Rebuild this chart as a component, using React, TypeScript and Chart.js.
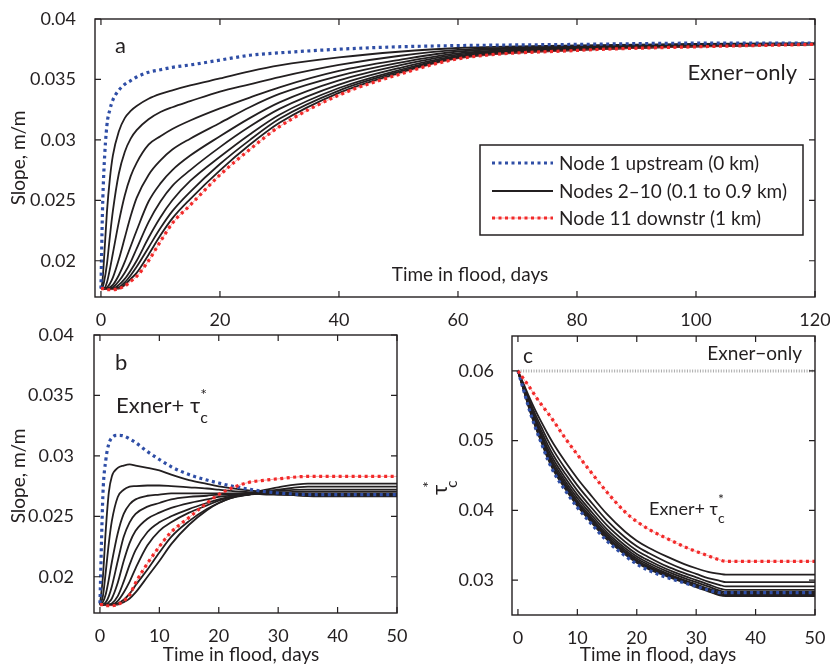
import { useEffect, useRef } from 'react';
import { Chart, registerables } from 'chart.js';
Chart.register(...registerables);

const FONT = 'Lato, "Open Sans", "DejaVu Sans", sans-serif';
const INK = '#231f20';
const BLUE = '#2f4ea6';
const RED = '#f22a2a';
const RED_THIN = 'rgba(242, 60, 60, 0.45)';

// ---------- Panel a: Exner-only slope ----------
const TIME_A = [0, 0.25, 0.5, 1, 1.5, 2, 3, 4, 5, 6, 8, 10, 12, 15, 20, 25, 30, 40, 50, 60, 80, 100, 120];
const A_NODE1 = [0.0177, 0.0240, 0.0275, 0.0312, 0.0325, 0.0333, 0.0341, 0.0346, 0.0349, 0.0352, 0.0356, 0.0358, 0.0360, 0.0362, 0.0366, 0.0370, 0.0372, 0.0375, 0.0377, 0.0378, 0.0379, 0.0380, 0.0380];
const A_NODES_2_10 = [
  [0.0177, 0.0183, 0.0200, 0.0240, 0.0268, 0.0287, 0.0307, 0.0318, 0.0324, 0.0328, 0.0334, 0.0338, 0.0341, 0.0345, 0.03508, 0.03567, 0.03616, 0.03682, 0.03729, 0.0376, 0.03781, 0.03795, 0.03799],
  [0.0177, 0.0178, 0.0182, 0.0197, 0.0220, 0.0241, 0.0272, 0.0290, 0.0301, 0.0308, 0.0317, 0.0323, 0.0327, 0.0332, 0.0340, 0.0346, 0.0352, 0.0362, 0.03694, 0.03744, 0.03774, 0.0379, 0.03797],
  [0.0177, 0.0177, 0.0177, 0.0182, 0.0193, 0.0206, 0.0232, 0.0254, 0.0270, 0.0281, 0.0296, 0.0303, 0.0309, 0.0316, 0.0326, 0.0335, 0.03435, 0.0357, 0.0366, 0.03731, 0.03768, 0.03787, 0.03796],
  [0.0177, 0.0177, 0.0177, 0.0178, 0.0181, 0.0186, 0.0201, 0.0219, 0.0237, 0.0252, 0.0271, 0.0283, 0.0292, 0.0301, 0.0314, 0.0327, 0.0338, 0.0353, 0.03637, 0.03716, 0.03761, 0.03783, 0.03794],
  [0.0177, 0.0177, 0.0177, 0.0177, 0.0178, 0.0180, 0.0188, 0.0199, 0.0212, 0.0225, 0.0249, 0.0264, 0.0275, 0.0287, 0.0303, 0.0318, 0.0331, 0.03492, 0.03614, 0.03705, 0.03756, 0.0378, 0.03793],
  [0.0177, 0.0177, 0.0177, 0.0177, 0.0177, 0.0178, 0.0183, 0.0190, 0.0199, 0.0210, 0.0232, 0.0249, 0.0262, 0.0275, 0.0294, 0.0311, 0.03256, 0.03457, 0.03593, 0.03695, 0.03752, 0.03777, 0.03792],
  [0.0177, 0.0177, 0.0177, 0.0177, 0.0177, 0.0177, 0.0180, 0.0185, 0.0192, 0.0200, 0.0219, 0.0236, 0.0250, 0.0266, 0.0286, 0.03045, 0.03208, 0.03429, 0.03576, 0.03687, 0.03748, 0.03775, 0.03792],
  [0.0177, 0.0177, 0.0177, 0.0177, 0.0177, 0.0177, 0.0178, 0.0182, 0.0188, 0.0195, 0.0211, 0.0227, 0.0241, 0.0257, 0.0280, 0.02998, 0.03174, 0.03408, 0.03563, 0.03681, 0.03745, 0.03773, 0.03791],
  [0.0177, 0.0177, 0.0177, 0.0177, 0.0177, 0.0177, 0.0177, 0.0180, 0.0185, 0.0190, 0.0205, 0.0221, 0.0235, 0.0251, 0.02748, 0.02959, 0.03141, 0.03389, 0.03552, 0.03676, 0.03743, 0.03772, 0.0379],
];
const A_NODE11 = [0.0177, 0.0177, 0.0177, 0.0176, 0.0176, 0.0176, 0.0177, 0.0179, 0.0183, 0.0187, 0.0200, 0.0216, 0.0231, 0.0246, 0.0271, 0.0292, 0.0311, 0.0337, 0.0354, 0.0367, 0.0374, 0.0377, 0.0379];

// ---------- Panel b: Exner + tau slope ----------
const TIME_B = [0, 0.5, 1, 1.5, 2, 3, 4, 5, 6, 8, 10, 12, 15, 18, 20, 22, 25, 28, 30, 35, 40, 50];
const B_NODE1 = [0.0178, 0.0268, 0.0297, 0.0310, 0.0315, 0.0317, 0.03165, 0.0314, 0.0311, 0.03035, 0.0297, 0.0291, 0.02845, 0.0280, 0.02775, 0.02752, 0.02725, 0.02703, 0.02693, 0.0268, 0.0268, 0.0268];
const B_NODES_2_10 = [
  [0.0177, 0.0200, 0.0240, 0.0270, 0.0283, 0.0290, 0.0292, 0.0293, 0.0292, 0.0290, 0.0288, 0.02845, 0.0280, 0.02768, 0.02748, 0.02733, 0.02715, 0.0270, 0.0269, 0.02668, 0.02665, 0.02665],
  [0.0177, 0.0184, 0.0205, 0.0228, 0.0246, 0.0266, 0.0272, 0.02745, 0.0275, 0.02755, 0.02755, 0.0275, 0.0274, 0.0273, 0.0272, 0.0271, 0.0270, 0.0269, 0.02685, 0.0267, 0.0267, 0.0267],
  [0.0177, 0.0179, 0.0186, 0.0198, 0.0212, 0.0236, 0.0252, 0.0260, 0.0264, 0.0267, 0.0268, 0.0269, 0.0269, 0.0269, 0.0269, 0.0269, 0.0269, 0.0268, 0.0268, 0.02675, 0.02675, 0.02675],
  [0.0177, 0.0177, 0.0179, 0.0184, 0.0192, 0.0213, 0.0233, 0.0245, 0.0252, 0.0258, 0.0261, 0.0264, 0.0266, 0.0267, 0.0268, 0.0268, 0.0269, 0.0269, 0.0268, 0.0268, 0.0268, 0.0268],
  [0.0177, 0.0177, 0.0177, 0.0179, 0.0182, 0.0195, 0.0213, 0.0228, 0.0238, 0.0248, 0.0253, 0.0257, 0.0261, 0.0264, 0.0266, 0.0267, 0.0268, 0.0269, 0.0269, 0.0269, 0.0269, 0.0269],
  [0.0177, 0.0177, 0.0177, 0.0177, 0.0178, 0.0184, 0.0196, 0.0210, 0.0222, 0.0237, 0.0245, 0.0250, 0.0256, 0.0261, 0.0264, 0.0266, 0.0268, 0.0270, 0.0270, 0.02705, 0.02705, 0.02705],
  [0.0177, 0.0177, 0.0177, 0.0177, 0.0177, 0.0180, 0.0187, 0.0196, 0.0207, 0.0226, 0.0238, 0.0245, 0.0253, 0.0259, 0.0263, 0.0266, 0.0268, 0.0270, 0.0271, 0.0272, 0.0272, 0.0272],
  [0.0177, 0.0177, 0.0177, 0.0177, 0.0177, 0.0178, 0.0181, 0.0186, 0.0193, 0.0206, 0.0220, 0.0233, 0.0246, 0.0256, 0.0261, 0.0265, 0.0268, 0.0271, 0.0272, 0.02745, 0.02746, 0.02746],
  [0.0177, 0.0177, 0.0177, 0.0177, 0.0177, 0.0177, 0.0179, 0.0182, 0.0187, 0.0200, 0.0213, 0.0227, 0.0243, 0.0255, 0.0261, 0.0265, 0.0269, 0.0272, 0.0274, 0.0277, 0.0277, 0.0277],
];
const B_NODE11 = [0.0177, 0.0177, 0.0176, 0.0176, 0.0176, 0.0177, 0.0180, 0.0185, 0.0195, 0.0211, 0.0225, 0.0237, 0.0249, 0.0261, 0.0268, 0.0273, 0.0278, 0.0280, 0.0281, 0.0283, 0.0283, 0.0283];

// ---------- Panel c: critical Shields stress ----------
const TIME_C = [0, 1, 2, 3, 4, 5, 6, 8, 10, 12, 15, 18, 20, 22, 25, 28, 30, 32, 34, 35, 40, 50];
const C_NODE1 = [0.0600, 0.0571, 0.0542, 0.0517, 0.0495, 0.0473, 0.0455, 0.0428, 0.0404, 0.0384, 0.0356, 0.0335, 0.0323, 0.0314, 0.0304, 0.0296, 0.0291, 0.0286, 0.0282, 0.0282, 0.0282, 0.0282];
const C_NODES_2_10 = [
  [0.06, 0.05715, 0.0543, 0.05184, 0.04967, 0.0475, 0.04572, 0.04303, 0.04063, 0.03862, 0.03581, 0.03369, 0.03248, 0.03158, 0.03057, 0.02965, 0.0290, 0.0284, 0.0278, 0.0277, 0.0277, 0.0277],
  [0.06, 0.0572, 0.0544, 0.05198, 0.04984, 0.0477, 0.04594, 0.04325, 0.04086, 0.03884, 0.03602, 0.03388, 0.03267, 0.03175, 0.0307, 0.0298, 0.0292, 0.0285, 0.0279, 0.0278, 0.0278, 0.0278],
  [0.06, 0.05725, 0.05451, 0.05211, 0.0500, 0.0479, 0.04616, 0.04348, 0.04108, 0.03907, 0.03623, 0.03407, 0.03285, 0.03193, 0.03085, 0.0299, 0.0293, 0.0287, 0.0281, 0.0279, 0.0279, 0.0279],
  [0.06, 0.05732, 0.05464, 0.0523, 0.05023, 0.04817, 0.04645, 0.04378, 0.04139, 0.03936, 0.03651, 0.03432, 0.03309, 0.03217, 0.0310, 0.0300, 0.0294, 0.0288, 0.0283, 0.0281, 0.0281, 0.0281],
  [0.06, 0.05741, 0.05481, 0.05253, 0.05051, 0.04851, 0.04681, 0.04415, 0.04177, 0.03973, 0.03686, 0.03463, 0.0334, 0.03246, 0.0313, 0.0303, 0.0297, 0.0291, 0.0285, 0.0283, 0.0283, 0.0283],
  [0.06, 0.05751, 0.05502, 0.0528, 0.05084, 0.04891, 0.04725, 0.0446, 0.04222, 0.04018, 0.03728, 0.03501, 0.03376, 0.03282, 0.0316, 0.0306, 0.0300, 0.0294, 0.0288, 0.0286, 0.0286, 0.0286],
  [0.06, 0.05764, 0.05529, 0.05317, 0.05129, 0.04944, 0.04784, 0.0452, 0.04283, 0.04077, 0.03784, 0.03552, 0.03425, 0.03329, 0.0320, 0.0310, 0.0304, 0.0298, 0.0293, 0.0291, 0.0291, 0.0291],
  [0.06, 0.05781, 0.05563, 0.05363, 0.05185, 0.05011, 0.04857, 0.04595, 0.04359, 0.04151, 0.03854, 0.03615, 0.03486, 0.03388, 0.0326, 0.0315, 0.0309, 0.0303, 0.0299, 0.0297, 0.0297, 0.0297],
  [0.06, 0.05804, 0.05607, 0.05423, 0.05258, 0.05099, 0.04952, 0.04693, 0.04458, 0.04247, 0.03945, 0.03697, 0.03566, 0.03465, 0.0334, 0.0323, 0.0317, 0.0312, 0.0309, 0.0308, 0.0308, 0.0308],
];
const C_NODE11 = [0.06, 0.0588, 0.0576, 0.0563, 0.0551, 0.0540, 0.0528, 0.0503, 0.0480, 0.0458, 0.0426, 0.0398, 0.0384, 0.0373, 0.0360, 0.0348, 0.0341, 0.0335, 0.0329, 0.0327, 0.0327, 0.0327];
const C_EXNER_ONLY_T = [0, 50];
const C_EXNER_ONLY = [0.06, 0.06];

// ---------- axes ----------
const X_TICKS_A = [0, 20, 40, 60, 80, 100, 120];
const X_TICKS_BC = [0, 10, 20, 30, 40, 50];
const Y_TICKS_AB = [0.02, 0.025, 0.03, 0.035, 0.04];
const Y_TICKS_C = [0.03, 0.04, 0.05, 0.06];

const LEGEND_LABELS = ['Node 1 upstream (0 km)', 'Nodes 2\u201310 (0.1 to 0.9 km)', 'Node 11 downstr (1 km)'];

function series(times: number[], vals: number[]) {
  return times.map((t, i) => ({ x: t, y: vals[i] }));
}

function buildDatasets(times: number[], n1: number[], mids: number[][], n11: number[]) {
  const ds: any[] = [];
  const common = { pointRadius: 0, cubicInterpolationMode: 'monotone', fill: false };
  mids.forEach((m) => {
    ds.push({ ...common, data: series(times, m), borderColor: INK, borderWidth: 1.8, order: 4 });
  });
  ds.push({ ...common, data: series(times, n1), borderColor: BLUE, borderWidth: 3.2, borderDash: [3, 3.5], order: 3 });
  ds.push({ ...common, data: series(times, n11), borderColor: RED_THIN, borderWidth: 1, order: 2 });
  ds.push({ ...common, data: series(times, n11), borderColor: RED, borderWidth: 3.2, borderDash: [3, 3.5], order: 1 });
  return ds;
}

function fmt(v: number) {
  return String(Number(v.toFixed(4)));
}

function zeroPad(s: any) {
  s.paddingLeft = 0; s.paddingRight = 0; s.paddingTop = 0; s.paddingBottom = 0;
}

function makeScales(o: {
  xmin: number; xmax: number; xticks: number[]; ymin: number; ymax: number; yticks: number[];
  yw: number; xh: number; xpad: number; ypad: number;
}) {
  return {
    x: {
      type: 'linear', min: o.xmin, max: o.xmax,
      grid: { display: false }, border: { display: false },
      afterBuildTicks: (s: any) => { s.ticks = o.xticks.map((v) => ({ value: v })); },
      afterFit: (s: any) => { s.height = o.xh; zeroPad(s); },
      ticks: { autoSkip: false, maxRotation: 0, minRotation: 0, padding: o.xpad, color: INK,
        font: { family: FONT, size: 18 }, callback: (v: any) => String(v) },
    },
    y: {
      type: 'linear', min: o.ymin, max: o.ymax,
      grid: { display: false }, border: { display: false },
      afterBuildTicks: (s: any) => { s.ticks = o.yticks.map((v) => ({ value: v })); },
      afterFit: (s: any) => { s.width = o.yw; zeroPad(s); },
      ticks: { autoSkip: false, padding: o.ypad, color: INK,
        font: { family: FONT, size: 18 }, callback: (v: any) => fmt(Number(v)) },
    },
  };
}

function txt(ctx: CanvasRenderingContext2D, s: string, x: number, y: number, size: number,
  align: CanvasTextAlign = 'left', baseline: CanvasTextBaseline = 'alphabetic') {
  ctx.font = `${size}px ${FONT}`;
  ctx.fillStyle = INK;
  ctx.textAlign = align;
  ctx.textBaseline = baseline;
  ctx.fillText(s, x, y);
}

function tau(ctx: CanvasRenderingContext2D, x: number, y: number, size: number, small: number, shift = 0) {
  ctx.font = `${size}px ${FONT}`;
  ctx.fillStyle = INK;
  ctx.textAlign = 'left';
  ctx.textBaseline = 'alphabetic';
  ctx.fillText('\u03c4', x, y);
  const w = ctx.measureText('\u03c4').width + shift;
  ctx.font = `${small}px ${FONT}`;
  ctx.fillText('*', x + w, y - size * 0.6);
  ctx.fillText('c', x + w, y + size * 0.45);
}

function framePlugin(xticks: number[], yticks: number[], extra: (ctx: CanvasRenderingContext2D, chart: any) => void) {
  return {
    id: 'frame',
    afterDraw(chart: any) {
      const { ctx, chartArea: a, scales } = chart;
      ctx.save();
      ctx.strokeStyle = INK;
      ctx.lineWidth = 1.4;
      ctx.strokeRect(a.left, a.top, a.right - a.left, a.bottom - a.top);
      ctx.lineWidth = 1.2;
      const L = 6;
      ctx.beginPath();
      xticks.forEach((v) => {
        const p = scales.x.getPixelForValue(v);
        ctx.moveTo(p, a.bottom); ctx.lineTo(p, a.bottom - L);
        ctx.moveTo(p, a.top); ctx.lineTo(p, a.top + L);
      });
      yticks.forEach((v) => {
        const p = scales.y.getPixelForValue(v);
        ctx.moveTo(a.left, p); ctx.lineTo(a.left + L, p);
        ctx.moveTo(a.right, p); ctx.lineTo(a.right - L, p);
      });
      ctx.stroke();
      extra(ctx, chart);
      ctx.restore();
    },
  };
}

function rotated(ctx: CanvasRenderingContext2D, x: number, y: number, fn: () => void) {
  ctx.save();
  ctx.translate(x, y);
  ctx.rotate(-Math.PI / 2);
  fn();
  ctx.restore();
}

const baseOptions = {
  responsive: false,
  animation: false as const,
  events: [] as any[],
  plugins: { legend: { display: false }, tooltip: { enabled: false } },
};

function makeA(canvas: HTMLCanvasElement) {
  return new Chart(canvas, {
    type: 'line',
    data: { datasets: buildDatasets(TIME_A, A_NODE1, A_NODES_2_10, A_NODE11) },
    options: {
      ...baseOptions,
      layout: { padding: { top: 19, right: 15, left: 0, bottom: 0 } },
      scales: makeScales({ xmin: -1, xmax: 120, xticks: X_TICKS_A, ymin: 0.017, ymax: 0.04, yticks: Y_TICKS_AB,
        yw: 95, xh: 43, xpad: 4, ypad: 11 }) as any,
    } as any,
    plugins: [framePlugin(X_TICKS_A, Y_TICKS_AB, (ctx) => {
      txt(ctx, 'a', 115, 53, 22);
      txt(ctx, 'Exner\u2212only', 797, 80, 22, 'right');
      txt(ctx, 'Time in flood, days', 470, 281, 19, 'center');
      rotated(ctx, 25, 158, () => txt(ctx, 'Slope, m/m', 0, 0, 19, 'center'));
      // legend
      ctx.fillStyle = '#fff';
      ctx.fillRect(480, 145, 323, 90);
      ctx.strokeStyle = INK;
      ctx.lineWidth = 1.5;
      ctx.strokeRect(480, 145, 323, 90);
      const rows = [163, 191, 218];
      const styles = [
        [{ c: BLUE, w: 3.2, d: [3, 3.5] }],
        [{ c: INK, w: 1.8, d: [] as number[] }],
        [{ c: RED_THIN, w: 1, d: [] as number[] }, { c: RED, w: 3.2, d: [3, 3.5] }],
      ];
      rows.forEach((y, i) => {
        styles[i].forEach((st) => {
          ctx.save();
          ctx.strokeStyle = st.c;
          ctx.lineWidth = st.w;
          ctx.setLineDash(st.d);
          ctx.beginPath();
          ctx.moveTo(492, y); ctx.lineTo(553, y);
          ctx.stroke();
          ctx.restore();
        });
        txt(ctx, LEGEND_LABELS[i], 559, y + 7, 19);
      });
    })],
  });
}

function makeB(canvas: HTMLCanvasElement) {
  return new Chart(canvas, {
    type: 'line',
    data: { datasets: buildDatasets(TIME_B, B_NODE1, B_NODES_2_10, B_NODE11) },
    options: {
      ...baseOptions,
      layout: { padding: { top: 10, right: 18, left: 0, bottom: 0 } },
      scales: makeScales({ xmin: -1, xmax: 50, xticks: X_TICKS_BC, ymin: 0.017, ymax: 0.04, yticks: Y_TICKS_AB,
        yw: 94, xh: 54, xpad: 4, ypad: 12 }) as any,
    } as any,
    plugins: [framePlugin(X_TICKS_BC, Y_TICKS_AB, (ctx) => {
      txt(ctx, 'b', 115, 45, 22);
      txt(ctx, 'Exner+ ', 116, 88, 22);
      ctx.font = `22px ${FONT}`;
      const w = ctx.measureText('Exner+ ').width;
      tau(ctx, 116 + w, 88, 22, 16);
      txt(ctx, 'Time in flood, days', 241, 336, 19, 'center');
      rotated(ctx, 25, 151, () => txt(ctx, 'Slope, m/m', 0, 0, 19, 'center'));
    })],
  });
}

function makeC(canvas: HTMLCanvasElement) {
  const ds = buildDatasets(TIME_C, C_NODE1, C_NODES_2_10, C_NODE11);
  ds.push({
    data: series(C_EXNER_ONLY_T, C_EXNER_ONLY), borderColor: '#a9a9a9', borderWidth: 3, borderDash: [1, 1.6],
    pointRadius: 0, fill: false, order: 5,
  });
  return new Chart(canvas, {
    type: 'line',
    data: { datasets: ds },
    options: {
      ...baseOptions,
      layout: { padding: { top: 11, right: 15, left: 0, bottom: 0 } },
      scales: makeScales({ xmin: -1, xmax: 50, xticks: X_TICKS_BC, ymin: 0.025, ymax: 0.065, yticks: Y_TICKS_C,
        yw: 97, xh: 52, xpad: 4, ypad: 10 }) as any,
    } as any,
    plugins: [framePlugin(X_TICKS_BC, Y_TICKS_C, (ctx) => {
      txt(ctx, 'c', 108, 38, 21);
      txt(ctx, 'Exner\u2212only', 387, 35, 19, 'right');
      txt(ctx, 'Exner+ ', 234, 190, 18);
      ctx.font = `18px ${FONT}`;
      const w = ctx.measureText('Exner+ ').width;
      tau(ctx, 234 + w, 190, 18, 14);
      txt(ctx, 'Time in flood, days', 243, 336, 19, 'center');
      rotated(ctx, 32, 170, () => tau(ctx, 0, 0, 22, 15, -3));
    })],
  });
}

export default function App() {
  const refA = useRef<HTMLCanvasElement>(null);
  const refB = useRef<HTMLCanvasElement>(null);
  const refC = useRef<HTMLCanvasElement>(null);

  useEffect(() => {
    const charts = [makeA(refA.current!), makeB(refB.current!), makeC(refC.current!)];
    return () => charts.forEach((c) => c.destroy());
  }, []);

  return (
    <div style={{ position: 'absolute', left: 0, top: 0, width: 830, height: 667, background: '#fff', overflow: 'hidden' }}>
      <canvas ref={refA} width={830} height={340} style={{ position: 'absolute', left: 0, top: 0 }} />
      <canvas ref={refB} width={415} height={342} style={{ position: 'absolute', left: 0, top: 325 }} />
      <canvas ref={refC} width={415} height={342} style={{ position: 'absolute', left: 415, top: 325 }} />
    </div>
  );
}
